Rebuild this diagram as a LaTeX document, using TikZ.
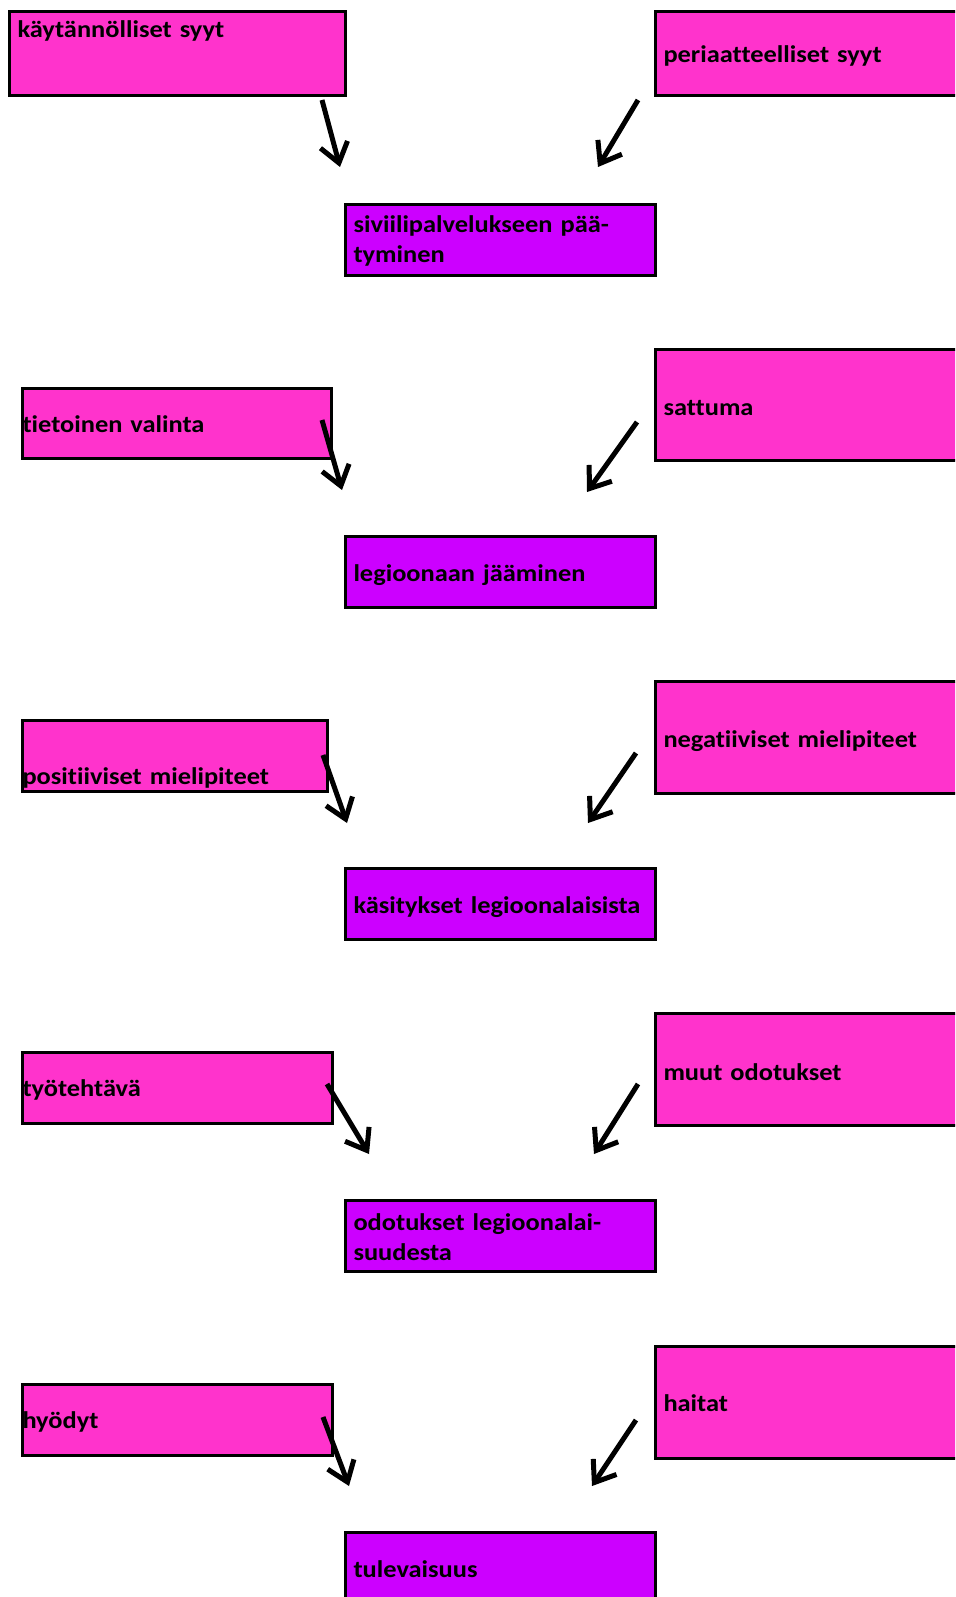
\documentclass[tikz,border=0pt]{standalone}
\usepackage{fontspec}
\setmainfont{Carlito}[Ligatures=NoCommon, FakeStretch=1.1]
\usepackage{tikz}
\usetikzlibrary{arrows.meta, positioning}
\usepackage{xcolor}
\definecolor{causepink}{HTML}{FF33CC}
\definecolor{topicviolet}{HTML}{CC00FF}

\begin{document}
\begin{tikzpicture}[
    x=1pt, y=-1pt,
    cause/.style={rectangle, draw, line width=3pt, fill=causepink, anchor=north west, outer sep=0pt, inner ysep=0pt, inner xsep=8pt, align=left},
    topic/.style={cause, fill=topicviolet, text width=294pt},
    arrow/.style={-{Straight Barb[length=19pt, width=28pt]}, line width=5pt},
    every node/.append style={font=\bfseries\fontsize{24}{30}\selectfont}
]
    \path[use as bounding box, clip] (0,0) rectangle (955,1597);
    \fill[white] (0,0) rectangle (955,1597);

    % first row
    \node[cause, text width=320pt, text height=26.5pt, text depth=57.5pt] (kaytan) at (9.5,11.5) {käytännölliset syyt};
    \node[cause, text width=400pt, text height=51.5pt, text depth=32.5pt] (periaat) at (655.5,11.5) {periaatteelliset syyt};
    \node[topic, text height=28.5pt, text depth=42.5pt] (sivii) at (345.5,204.5) {siviilipalvelukseen pää-\\tyminen};

    % second row
    \node[cause, inner xsep=0pt, text width=309pt, text height=43.5pt, text depth=26.5pt] (tietoin) at (22.5,388.5) {tietoinen valinta};
    \node[cause, text width=400pt, text height=65.5pt, text depth=45.5pt] (sattuma) at (655.5,349.5) {sattuma};
    \node[topic, text height=44.5pt, text depth=26pt] (legioon) at (345.5,536.5) {legioonaan jääminen};

    % third row
    \node[cause, inner xsep=0pt, text width=305pt, text height=64pt, text depth=7pt] (positiiv) at (22.5,720) {positiiviset mielipiteet};
    \node[cause, text width=400pt, text height=65.5pt, text depth=46.5pt] (negat) at (655.5,681.5) {negatiiviset mielipiteet};
    \node[topic, text height=44.5pt, text depth=26pt] (kasityk) at (345.5,868.5) {käsitykset legioonalaisista};

    % fourth row
    \node[cause, inner xsep=0pt, text width=310pt, text height=43.5pt, text depth=27.5pt] (tyoteht) at (22.5,1052.5) {työtehtävä};
    \node[cause, text width=400pt, text height=66.5pt, text depth=45.5pt] (muut) at (655.5,1013.5) {muut odotukset};
    \node[topic, text height=30pt, text depth=41.5pt] (odotuk) at (345.5,1200) {odotukset legioonalai-\\suudesta};

    % fifth row
    \node[cause, inner xsep=0pt, text width=310pt, text height=43.5pt, text depth=27.5pt] (hyodyt) at (22.5,1384.5) {hyödyt};
    \node[cause, text width=400pt, text height=65pt, text depth=47.5pt] (haitat) at (655.5,1346) {haitat};
    \node[topic, text height=45pt, text depth=80pt] (tulev) at (345.5,1532) {tulevaisuus};

    % arrow ends
    \coordinate (kaytanA) at (322,100);   \coordinate (siviiL) at (340,167);
    \coordinate (periaatA) at (638,100);  \coordinate (siviiR) at (598,167);
    \coordinate (tietoinA) at (322,420);  \coordinate (legioonL) at (342,490);
    \coordinate (sattumaA) at (637,422);  \coordinate (legioonR) at (587,492);
    \coordinate (positiivA) at (323,755); \coordinate (kasitykL) at (347,823);
    \coordinate (negatA) at (636,753);    \coordinate (kasitykR) at (588,823);
    \coordinate (tyotehtA) at (327,1084); \coordinate (odotukL) at (369,1154);
    \coordinate (muutA) at (638,1084);    \coordinate (odotukR) at (594,1154);
    \coordinate (hyodytA) at (323,1417);  \coordinate (tulevL) at (349,1486);
    \coordinate (haitatA) at (636,1420);  \coordinate (tulevR) at (592,1486);

    \draw[arrow] (kaytanA) -- (siviiL);
    \draw[arrow] (periaatA) -- (siviiR);
    \draw[arrow] (tietoinA) -- (legioonL);
    \draw[arrow] (sattumaA) -- (legioonR);
    \draw[arrow] (positiivA) -- (kasitykL);
    \draw[arrow] (negatA) -- (kasitykR);
    \draw[arrow] (tyotehtA) -- (odotukL);
    \draw[arrow] (muutA) -- (odotukR);
    \draw[arrow] (hyodytA) -- (tulevL);
    \draw[arrow] (haitatA) -- (tulevR);
\end{tikzpicture}
\end{document}
